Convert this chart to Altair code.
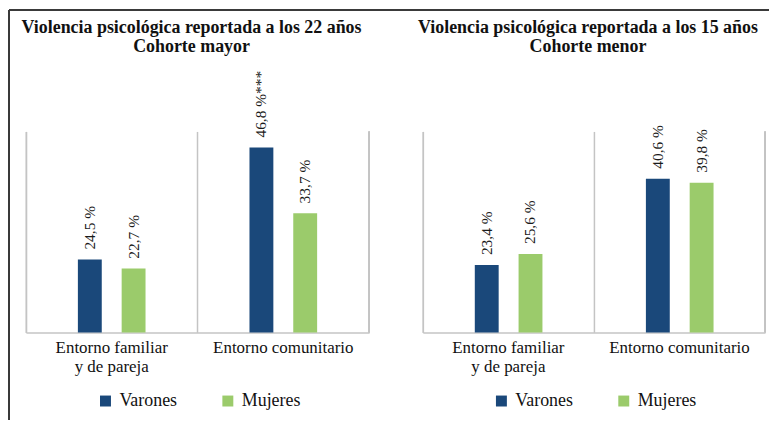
import altair as alt
import pandas as pd

# ---- data ----
categorias = ["Entorno familiar y de pareja", "Entorno comunitario"]
sexos = ["Varones", "Mujeres"]
colores = ["#1A487A", "#9BCB6B"]

titulo_mayor = ["Violencia psicológica reportada a los 22 años", "Cohorte mayor"]
varones_mayor = [24.5, 46.8]
mujeres_mayor = [22.7, 33.7]
etiquetas_varones_mayor = ["24,5 %", "46,8 %***"]
etiquetas_mujeres_mayor = ["22,7 %", "33,7 %"]

titulo_menor = ["Violencia psicológica reportada a los 15 años", "Cohorte menor"]
varones_menor = [23.4, 40.6]
mujeres_menor = [25.6, 39.8]
etiquetas_varones_menor = ["23,4 %", "40,6 %"]
etiquetas_mujeres_menor = ["25,6 %", "39,8 %"]

Y_MIN, Y_MAX = 10, 50

SERIF = "Liberation Serif"
GRID = "#C4C4C4"
BORDER = "#3A3A3A"


def frame(v, m, lv, lm):
    rows = []
    for i, c in enumerate(categorias):
        rows.append({"categoria": c, "sexo": "Varones", "valor": v[i], "etiqueta": lv[i]})
        rows.append({"categoria": c, "sexo": "Mujeres", "valor": m[i], "etiqueta": lm[i]})
    return pd.DataFrame(rows)


H = 202
LABEL_EXPR = ("datum.label == 'Entorno familiar y de pareja' ? "
              "['Entorno familiar', 'y de pareja'] : datum.label")


def panel(df, titulo, W, left_ext, right_ext, legend_x, draw_left_border):
    base = alt.Chart(df)
    x = alt.X("categoria:N", sort=categorias, title=None,
              scale=alt.Scale(paddingInner=0, paddingOuter=0),
              axis=alt.Axis(labelAngle=0, labelFont=SERIF, labelFontSize=17,
                            labelColor="#111111", labelExpr=LABEL_EXPR,
                            labelLineHeight=19, labelPadding=7,
                            ticks=False, domainColor=GRID, domainWidth=1.5,
                            grid=True, gridColor=GRID, gridWidth=1.5,
                            bandPosition=0))
    xo = alt.XOffset("sexo:N", sort=sexos,
                     scale=alt.Scale(paddingInner=0.08, paddingOuter=1))
    y = alt.Y("valor:Q", title=None,
              scale=alt.Scale(domain=[Y_MIN, Y_MAX], zero=False, nice=False),
              axis=alt.Axis(labels=False, ticks=False, grid=False,
                            domainColor=GRID, domainWidth=1.5))
    color = alt.Color("sexo:N", sort=sexos,
                      scale=alt.Scale(domain=sexos, range=colores),
                      legend=alt.Legend(title=None, orient="none",
                                        direction="horizontal",
                                        legendX=legend_x, legendY=262,
                                        symbolType="square", symbolSize=121,
                                        symbolStrokeWidth=0,
                                        labelFont=SERIF, labelFontSize=18,
                                        labelColor="#111111", labelOffset=5,
                                        columnPadding=42))
    bars = base.mark_bar(width=24).encode(x=x, xOffset=xo, y=y,
                                          y2=alt.datum(Y_MIN), color=color)
    labels = base.mark_text(angle=270, align="left", baseline="middle",
                            dx=10, font=SERIF, fontSize=15.5,
                            color="#1a1a1a").encode(
        x=alt.X("categoria:N", sort=categorias), xOffset=xo,
        y="valor:Q", text="etiqueta:N")
    right_line = base.mark_rule(color=GRID, strokeWidth=1.5).encode(
        x=alt.value(W), y=alt.value(0), y2=alt.value(H))
    top_border = base.mark_rule(color=BORDER, strokeWidth=1.5).encode(
        x=alt.value(-left_ext), x2=alt.value(W + right_ext),
        y=alt.value(-122), y2=alt.value(-122))
    layers = [bars, labels, right_line, top_border]
    if draw_left_border:
        left_border = base.mark_rule(color=BORDER, strokeWidth=1.5).encode(
            x=alt.value(-left_ext), x2=alt.value(-left_ext),
            y=alt.value(-122), y2=alt.value(290))
        layers.append(left_border)
    return alt.layer(*layers).properties(
        width=W, height=H,
        title=alt.TitleParams(text=titulo, font=SERIF, fontSize=18,
                              fontWeight="bold", color="#111111",
                              anchor="middle", frame="group", dx=-6,
                              offset=-47, lineHeight=19))


left = panel(frame(varones_mayor, mujeres_mayor,
                   etiquetas_varones_mayor, etiquetas_mujeres_mayor),
             titulo_mayor, 345, 17, 26, 71, True)
right = panel(frame(varones_menor, mujeres_menor,
                    etiquetas_varones_menor, etiquetas_mujeres_menor),
              titulo_menor, 344, 28, 4, 70, False)

chart = alt.hconcat(left, right, spacing=-2).resolve_scale(
    color="independent").resolve_legend(color="independent").properties(
    padding={"left": 0, "top": 0, "right": 0, "bottom": 0},
    background="white").configure_view(strokeWidth=0)

chart.save("out.html", embed_options={"renderer": "svg", "actions": False})
